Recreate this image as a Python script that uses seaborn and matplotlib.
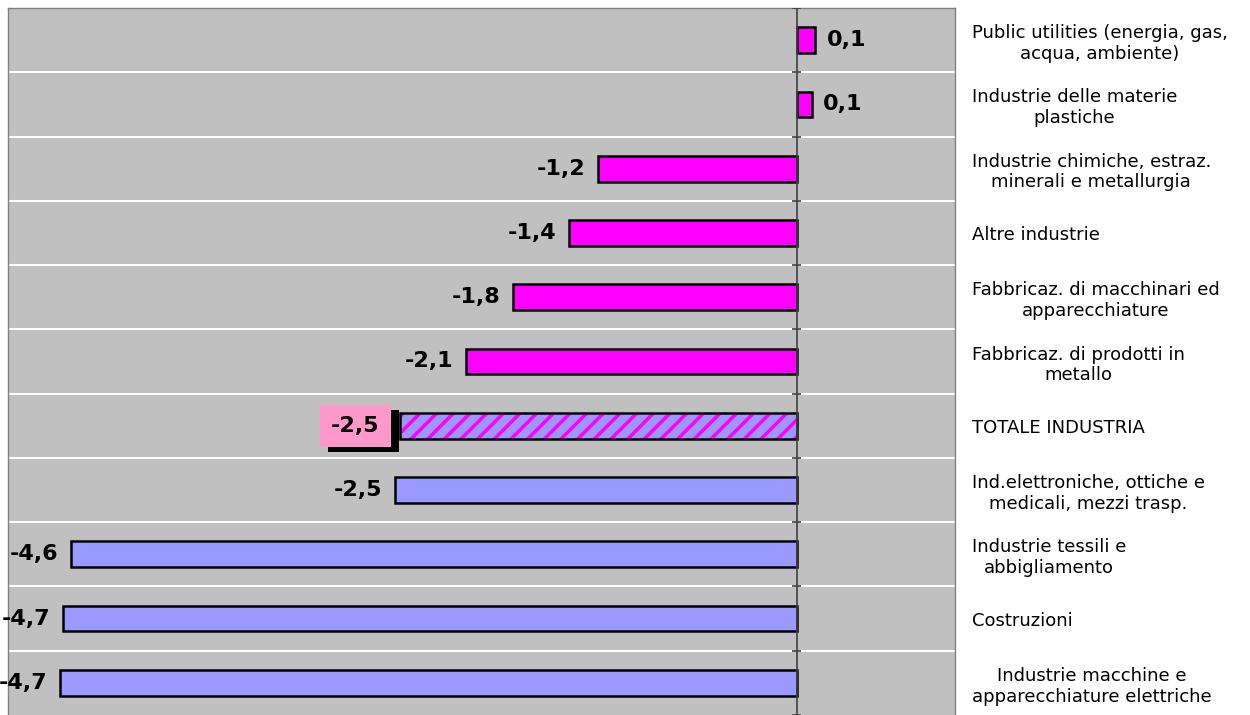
import numpy as np
import pandas as pd
import matplotlib
matplotlib.use("Agg")
import matplotlib.pyplot as plt
import matplotlib.patches as mpatches
import matplotlib.patheffects as pe
import seaborn as sns

# categories top to bottom
categories = [
    "Public utilities (energia, gas,\nacqua, ambiente)",
    "Industrie delle materie\nplastiche",
    "Industrie chimiche, estraz.\nminerali e metallurgia",
    "Altre industrie",
    "Fabbricaz. di macchinari ed\napparecchiature",
    "Fabbricaz. di prodotti in\nmetallo",
    "TOTALE INDUSTRIA",
    "Ind.elettroniche, ottiche e\nmedicali, mezzi trasp.",
    "Industrie tessili e\nabbigliamento",
    "Costruzioni",
    "Industrie macchine e\napparecchiature elettriche",
]
values = [0.12, 0.10, -1.27, -1.45, -1.81, -2.11, -2.53, -2.56, -4.63, -4.68, -4.70]
shown = ["0,1", "0,1", "-1,2", "-1,4", "-1,8", "-2,1", "-2,5", "-2,5", "-4,6", "-4,7", "-4,7"]
groups = ["sopra"] * 6 + ["totale"] + ["sotto"] * 4
total_idx = 6

df = pd.DataFrame({"cat": categories, "val": values, "grp": groups})

sns.set_theme(style="white")
plt.rcParams["font.family"] = ["DejaVu Sans"]
plt.rcParams["text.color"] = "black"
plt.rcParams["hatch.linewidth"] = 2.5

fig = plt.figure(figsize=(12.5, 7.15), dpi=100)
ax = fig.add_axes([8 / 1250, 0.0, (955 - 8) / 1250, (715 - 8) / 715])
ax.set_facecolor("#c0c0c0")

palette = {"sopra": "#ff00ff", "totale": "#9999ff", "sotto": "#9999ff"}
sns.barplot(data=df, x="val", y="cat", hue="grp", palette=palette, orient="h",
            width=0.4, dodge=False, legend=False, saturation=1,
            edgecolor="black", linewidth=1.8, ax=ax)

# hatched total bar: magenta stripes over lavender, black outline on top
tot = [p for p in ax.patches
       if abs(p.get_width()) > 0 and abs(p.get_y() + p.get_height() / 2 - total_idx) < 0.01][0]
tot.set_edgecolor("#ff00ff")
tot.set_linewidth(0)
tot.set_hatch("//")
ax.add_patch(mpatches.Rectangle((tot.get_x(), tot.get_y()), tot.get_width(), tot.get_height(),
                                fill=False, edgecolor="black", linewidth=1.8, zorder=3))

ax.set_xlim(-5.03, 1.01)
ax.set_ylim(len(categories) - 0.5, -0.5)

# zero axis with tick marks at row boundaries
ax.axvline(0, color="#404040", linewidth=1.2, zorder=4)
bounds = np.arange(len(categories) + 1) - 0.5
ax.hlines(bounds, -0.03, 0.03, color="#404040", linewidth=1.2, zorder=4)

# white separators between rows
ax.set_yticks(bounds[1:-1], minor=True)
ax.grid(True, which="minor", axis="y", color="white", linewidth=1.5)
ax.set_axisbelow(True)

# category labels on the right
ax.yaxis.tick_right()
ax.set_yticks(range(len(categories)))
ax.set_yticklabels(categories, fontsize=13, ha="left", multialignment="center", color="black")
ax.tick_params(axis="y", which="both", length=0, pad=12)
ax.set_xticks([])
ax.set_xlabel("")
ax.set_ylabel("")
for s in ax.spines.values():
    s.set_color("#808080")
    s.set_linewidth(1.0)
ax.spines["bottom"].set_visible(False)

# value labels
lab_kw = dict(va="center", fontsize=16, fontweight="bold", color="black")
for i, (v, t) in enumerate(zip(values, shown)):
    if v >= 0:
        ax.text(v + 0.07, i, t, ha="left", zorder=5, **lab_kw)
    elif i == total_idx:
        txt = ax.text(v - 0.13, i, t, ha="right", zorder=6,
                      bbox=dict(boxstyle="square,pad=0.5", facecolor="#ff99cc", edgecolor="none"),
                      **lab_kw)
        txt.get_bbox_patch().set_path_effects([
            pe.SimplePatchShadow(offset=(6, -4), shadow_rgbFace="black", alpha=1.0),
            pe.Normal(),
        ])
    else:
        ax.text(v - 0.08, i, t, ha="right", zorder=5, **lab_kw)

fig.savefig("out.png", dpi=100)
